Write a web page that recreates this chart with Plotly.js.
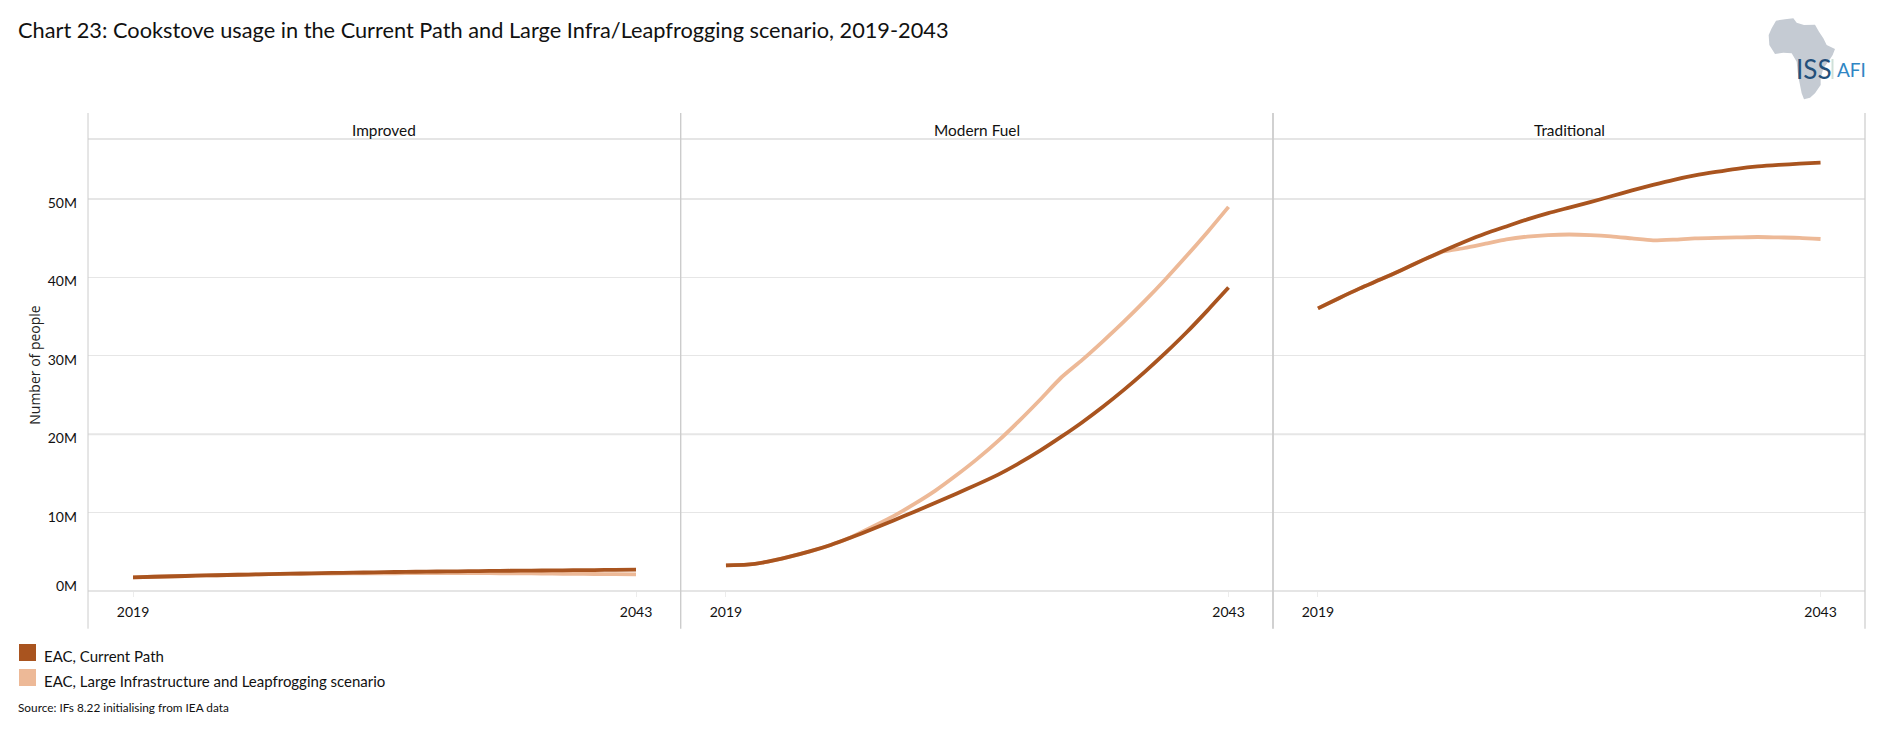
<!DOCTYPE html>
<html>
<head>
<meta charset="utf-8">
<script src="https://cdn.plot.ly/plotly-3.0.1.min.js"></script>
<style>html,body{margin:0;padding:0;background:#fff}</style>
</head>
<body>
<div id="chart" style="width:1880px;height:739px"></div>
<script>
const years = [2019,2020,2021,2022,2023,2024,2025,2026,2027,2028,2029,2030,2031,2032,2033,2034,2035,2036,2037,2038,2039,2040,2041,2042,2043];
const panelNames = ["Improved","Modern Fuel","Traditional"];
const seriesNames = ["EAC, Current Path","EAC, Large Infrastructure and Leapfrogging scenario"];
const seriesColors = ["#a9541f","#edb997"];

const improvedCurrent = [1.75,1.82,1.88,1.95,2.01,2.07,2.13,2.18,2.23,2.28,2.32,2.36,2.40,2.44,2.47,2.50,2.53,2.56,2.58,2.60,2.63,2.65,2.67,2.70,2.72];
const improvedLeap    = [1.75,1.82,1.88,1.95,2.01,2.07,2.12,2.16,2.19,2.22,2.24,2.25,2.26,2.27,2.28,2.28,2.28,2.27,2.26,2.24,2.21,2.19,2.17,2.15,2.13];
const modernCurrent   = [3.28,3.36,3.74,4.35,5.05,5.87,6.85,7.9,9.0,10.12,11.25,12.4,13.6,14.85,16.3,17.9,19.65,21.5,23.5,25.65,27.95,30.4,33.0,35.8,38.7];
const modernLeap      = [3.28,3.36,3.74,4.35,5.05,5.87,6.9,8.2,9.55,11.1,12.8,14.75,16.85,19.15,21.7,24.4,27.2,29.45,31.85,34.35,37.0,39.8,42.75,45.8,49.0];
const tradCurrent     = [36.05,37.35,38.6,39.75,40.95,42.2,43.4,44.55,45.6,46.5,47.4,48.2,48.9,49.6,50.35,51.1,51.8,52.45,53.0,53.45,53.85,54.15,54.35,54.5,54.63];
const tradLeap        = [36.05,37.35,38.6,39.75,40.95,42.2,43.3,43.75,44.3,44.85,45.2,45.4,45.47,45.4,45.24,44.98,44.73,44.82,44.98,45.05,45.1,45.15,45.1,45.05,44.9];

const yTickValues = [0,10,20,30,40,50];
const yTickLabels = ["0M","10M","20M","30M","40M","50M"];
const strongGridValues = [20,50];
const xTickValues = [2019,2043];
const xTickLabels = ["2019","2043"];

const W = 1880, H = 739;
const FONT = "Lato, 'Noto Sans', sans-serif";
const px = v => v / W;
const py = v => 1 - v / H;
const panelEdges = [[88,680.5],[681,1273],[1273,1865]];
const plotTop = 139, plotBottom = 591;
const yMax = (plotBottom - plotTop) / 7.84;

const seriesByPanel = [[improvedCurrent,improvedLeap],[modernCurrent,modernLeap],[tradCurrent,tradLeap]];
const traces = [];
seriesByPanel.forEach((pair,p) => {
  [1,0].forEach(s => {
    traces.push({
      x: years, y: pair[s], type: "scatter", mode: "lines",
      name: seriesNames[s], showlegend: false,
      xaxis: p === 0 ? "x" : "x" + (p+1), yaxis: p === 0 ? "y" : "y" + (p+1),
      line: {color: seriesColors[s], width: 3.8, shape: "spline", smoothing: 0.6},
      cliponaxis: false, hoverinfo: "skip"
    });
  });
});

const layout = {
  width: W, height: H, margin: {l:0,r:0,t:0,b:0},
  paper_bgcolor: "#fff", plot_bgcolor: "#fff",
  font: {family: FONT, size: 14, color: "#111"},
  showlegend: false, shapes: [], annotations: [], images: []
};
panelEdges.forEach((e,i) => {
  const sfx = i === 0 ? "" : String(i+1);
  layout["xaxis"+sfx] = {
    domain: [px(e[0]), px(e[1])], range: [2016.853, 2045.123], anchor: i === 0 ? "y" : "y"+(i+1),
    tickmode: "array", tickvals: xTickValues, ticktext: xTickLabels,
    ticks: "outside", ticklen: 5, tickwidth: 1, tickcolor: "#ececec",
    showgrid: false, zeroline: false, showline: false,
    tickfont: {family: FONT, size: 14, color: "#111"}, ticklabelstandoff: 3
  };
  layout["yaxis"+sfx] = {
    domain: [py(plotBottom), py(plotTop)], range: [0, yMax], anchor: i === 0 ? "x" : "x"+(i+1),
    tickmode: "array", tickvals: yTickValues, ticktext: yTickLabels,
    showticklabels: i === 0, ticks: "", showline: false, zeroline: false,
    showgrid: true, gridcolor: "#e6e6e6", gridwidth: 1,
    tickfont: {family: FONT, size: 14, color: "#111"}, ticklabelstandoff: 10
  };
});
layout.yaxis.title = {text: "Number of people", font: {family: "'Open Sans', sans-serif", size: 14, color: "#222"}, standoff: 3};

strongGridValues.forEach(v => layout.shapes.push({type:"line",xref:"paper",yref:"y",x0:px(88),x1:px(1865),y0:v,y1:v,line:{color:"#e6e6e6",width:2},layer:"below"}));

const rule = (x0,y0,x1,y1,w) => ({type:"line",xref:"paper",yref:"paper",x0:px(x0),x1:px(x1),y0:py(y0),y1:py(y1),line:{color:"#cccccc",width:w}, layer:"above"});
layout.shapes.push(rule(88,139,1865,139,1.2), rule(88,591,1865,591,1.2));
[[88,1],[680.7,1.4],[1273,1.8],[1865,1.2]].forEach(v => layout.shapes.push(rule(v[0],113,v[0],628.7,v[1])));

const note = (x,y,text,size,extra) => Object.assign({xref:"paper",yref:"paper",x:px(x),y:py(y),text,showarrow:false,xanchor:"left",yanchor:"middle",font:{family:FONT,size,color:"#111"}}, extra||{});

layout.annotations.push(note(16,30,"Chart 23: Cookstove usage in the Current Path and Large Infra/Leapfrogging scenario, 2019-2043",21.75));
panelNames.forEach((n,i) => layout.annotations.push(note((panelEdges[i][0]+panelEdges[i][1])/2,129.7,n,15.4,{xanchor:"center"})));

[[644,661,656],[669,686,681]].forEach((r,i) => {
  layout.shapes.push({type:"rect",xref:"paper",yref:"paper",x0:px(19),x1:px(36),y0:py(r[0]),y1:py(r[1]),fillcolor:seriesColors[i],line:{width:0}});
  layout.annotations.push(note(41.5,r[2],seriesNames[i],15));
});
layout.annotations.push(note(16,707,"Source: IFs 8.22 initialising from IEA data",11.8));

const africa = "M378 62L405 58L430 55L440 68L462 75L495 74L507 95L520 115L530 135L555 147L548 165L535 185L520 205L512 235L512 255L495 280L480 293L462 298L455 280L447 240L443 215L440 185L425 160L400 158L375 162L358 135L356 105L365 85Z";
const svg = "<svg xmlns='http://www.w3.org/2000/svg' viewBox='350 50 210 255'><path d='"+africa+"' fill='#c5cbd3'/></svg>";
layout.images.push({source:"data:image/svg+xml;utf8,"+encodeURIComponent(svg),xref:"paper",yref:"paper",x:px(1766.67),y:py(16.67),sizex:70/W,sizey:85/H,xanchor:"left",yanchor:"top",sizing:"stretch",layer:"below"});
layout.annotations.push(note(1793.5,69,"ISS",26,{font:{family:FONT,size:26,color:"#24507a"}}));
layout.shapes.push({type:"line",xref:"paper",yref:"paper",x0:px(1832.5),x1:px(1832.5),y0:py(59),y1:py(79),line:{color:"#cfe0d8",width:2}});
layout.annotations.push(note(1835,69,"AFI",19,{font:{family:FONT,size:19,color:"#2f86c4"}}));

Plotly.newPlot("chart", traces, layout, {displayModeBar:false, staticPlot:true}).then(() => {
  document.querySelectorAll("#chart .ytick text").forEach(t => {
    const isZero = t.textContent === yTickLabels[0];
    t.setAttribute("y", parseFloat(t.getAttribute("y")) + (isZero ? -5 : 4));
  });
});
</script>
</body>
</html>
